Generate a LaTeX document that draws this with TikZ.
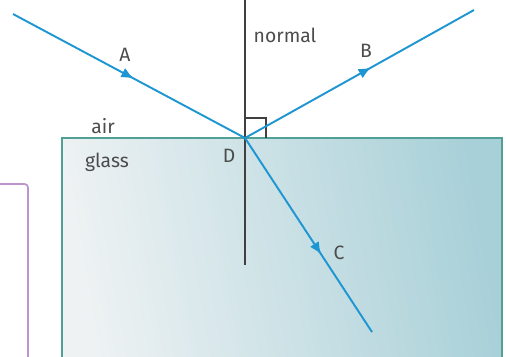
\documentclass[tikz,border=0pt]{standalone}
\usepackage{fontspec}
\setmainfont{Fira Sans}
\usetikzlibrary{decorations.markings,arrows.meta}
\definecolor{raycol}{RGB}{30,150,210}
\definecolor{edgecol}{RGB}{80,160,150}
\definecolor{glassL}{RGB}{238,242,243}
\definecolor{glassR}{RGB}{168,208,216}
\definecolor{bracketcol}{RGB}{190,150,205}
\tikzset{ray/.style={raycol, line width=1.1pt, postaction={decorate},
    decoration={markings, mark=at position #1 with {\arrow{Latex[length=7pt,width=6pt]}}}},
  lbl/.style={text=black!70, font=\fontsize{11}{13}\selectfont}}

\begin{document}
\begin{tikzpicture}[x=0.02cm,y=-0.02cm]
\useasboundingbox (0,0) rectangle (506,356);
    % glass block
    \shade[left color=glassL, right color=glassR, shading angle=100] (62,138) rectangle (502,360);
    \draw[edgecol, line width=0.9pt] (62,360) -- (62,138) -- (502,138) -- (502,360);
    \draw[bracketcol, line width=1pt, rounded corners=2pt] (0,184) -- (28,184) -- (28,360);

    \coordinate (D) at (245,138);
    \coordinate (nt) at (245,0);
    \coordinate (nb) at (245,265);
    \coordinate (a0) at (13,14);
    \coordinate (b1) at (474,10);
    \coordinate (c1) at (372,332);

	\draw[black!75, line width=0.9pt] (nt) -- (nb);
	\draw[black!75, line width=0.6pt] (245,118) -- (266,118) -- (266,138);

    \draw[ray=0.52] (a0) -- (D);
    \draw[ray=0.55] (D) -- (b1);
    \draw[ray=0.60] (D) -- (c1);

    \node[lbl] (nA) at (125,55) {A};
    \node[lbl] (nB) at (366,51) {B};
    \node[lbl] (nC) at (339,253) {C};
    \node[lbl] (nD) at (229,156) {D};
    \node[lbl] (nN) at (285,35) {normal};
    \node[lbl] (nair) at (103,126) {air};
    \node[lbl] (nglass) at (107,162) {glass};
\end{tikzpicture}
\end{document}
